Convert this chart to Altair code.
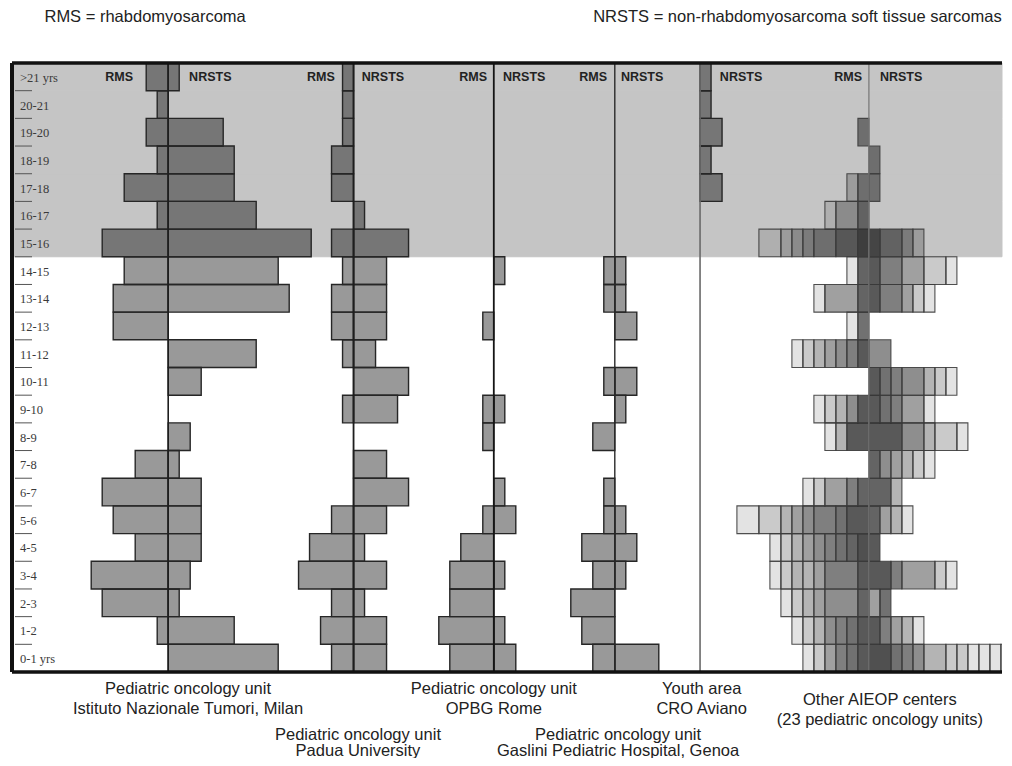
import altair as alt
import pandas as pd

# ---------------- data (units = patients) ----------------
AGES = [">21 yrs", "20-21", "19-20", "18-19", "17-18", "16-17", "15-16",
        "14-15", "13-14", "12-13", "11-12", "10-11", "9-10", "8-9", "7-8",
        "6-7", "5-6", "4-5", "3-4", "2-3", "1-2", "0-1 yrs"]
ADOLESCENT_AGES = AGES[:7]

MILAN_RMS = [2, 1, 2, 1, 4, 1, 6, 4, 5, 5, 0, 0, 0, 0, 3, 6, 5, 3, 7, 6, 1, 0]
MILAN_NRSTS = [1, 0, 5, 6, 6, 8, 13, 10, 11, 0, 8, 3, 0, 2, 1, 3, 3, 3, 2, 1, 6, 10]
PADUA_RMS = [1, 1, 1, 2, 2, 0, 2, 1, 2, 2, 1, 0, 1, 0, 0, 0, 2, 4, 5, 2, 3, 2]
PADUA_NRSTS = [0, 0, 0, 0, 0, 1, 5, 3, 3, 3, 2, 5, 4, 0, 3, 5, 3, 1, 3, 1, 3, 3]
ROME_RMS = [0, 0, 0, 0, 0, 0, 0, 0, 0, 1, 0, 0, 1, 1, 0, 0, 1, 3, 4, 4, 5, 4]
ROME_NRSTS = [0, 0, 0, 0, 0, 0, 0, 1, 0, 0, 0, 0, 1, 0, 0, 1, 2, 0, 1, 0, 1, 2]
GENOA_RMS = [0, 0, 0, 0, 0, 0, 0, 1, 1, 0, 0, 1, 0, 2, 0, 1, 1, 3, 2, 4, 3, 2]
GENOA_NRSTS = [0, 0, 0, 0, 0, 0, 0, 1, 1, 2, 0, 2, 1, 0, 0, 0, 1, 2, 1, 0, 0, 4]
AVIANO_RMS = [0] * 22
AVIANO_NRSTS = [1, 1, 2, 1, 2, 0, 0, 0, 0, 0, 0, 0, 0, 0, 0, 0, 0, 0, 0, 0, 0, 0]

# Other AIEOP centers: overlaid bars of 23 units -> segments (width, number of overlapping centres)
AIEOP_RMS = [
    [], [], [(1, 5)], [], [(1, 5), (1, 2)], [(1, 6), (2, 3), (1, 1)],
    [(1, 10), (2, 7), (2, 5), (1, 4), (1, 3), (1, 2), (2, 1)],
    [(1, 8), (1, 1)],
    [(1, 8), (3, 4), (1, 1)],
    [(1, 7), (1, 1)],
    [(1, 9), (1, 6), (1, 5), (1, 4), (1, 3), (1, 2), (1, 1)],
    [],
    [(1, 9), (1, 5), (1, 3), (1, 2), (1, 1)],
    [(2, 9), (1, 3), (1, 1)],
    [],
    [(1, 8), (1, 6), (2, 4), (1, 2), (1, 1)],
    [(2, 9), (1, 7), (2, 6), (1, 5), (1, 4), (1, 3), (2, 2), (2, 1)],
    [(1, 10), (1, 8), (1, 7), (1, 6), (1, 5), (1, 4), (1, 3), (1, 2), (1, 1)],
    [(1, 9), (3, 6), (1, 4), (1, 3), (1, 3), (1, 2), (1, 1)],
    [(1, 8), (3, 5), (1, 4), (1, 3), (1, 2), (1, 1)],
    [(1, 9), (1, 7), (1, 6), (1, 5), (1, 3), (1, 2), (1, 1)],
    [(1, 9), (1, 7), (1, 6), (1, 4), (1, 2), (1, 1)],
]
AIEOP_NRSTS = [
    [], [], [], [(1, 5)], [(1, 5)], [],
    [(1, 9), (2, 6), (1, 4), (1, 2)],
    [(1, 9), (2, 6), (2, 4), (2, 2), (1, 1)],
    [(1, 9), (2, 6), (1, 4), (1, 2), (1, 1)],
    [],
    [(2, 5)],
    [(1, 9), (1, 7), (1, 6), (2, 5), (1, 3), (1, 2), (1, 1)],
    [(1, 9), (1, 7), (1, 6), (2, 4), (1, 1)],
    [(3, 9), (2, 5), (1, 3), (2, 2), (1, 1)],
    [(1, 8), (1, 5), (1, 4), (1, 3), (1, 2), (1, 1)],
    [(2, 8), (1, 3)],
    [(1, 8), (1, 4), (1, 3), (1, 1)],
    [(1, 9)],
    [(2, 9), (1, 6), (3, 4), (1, 2), (1, 1)],
    [(1, 4), (1, 7)],
    [(1, 9), (1, 6), (1, 4), (1, 3), (1, 1)],
    [(2, 10), (1, 7), (1, 6), (1, 5), (2, 3), (1, 2), (1, 2),
     (1, 1), (1, 1), (1, 1), (1, 1), (1, 1), (1, 1)],
]

PANEL_LABELS = {
    "Milan": ["Pediatric oncology unit", "Istituto Nazionale Tumori, Milan"],
    "Padua": ["Pediatric oncology unit", "Padua University"],
    "Rome": ["Pediatric oncology unit", "OPBG Rome"],
    "Genoa": ["Pediatric oncology unit", "Gaslini Pediatric Hospital, Genoa"],
    "Aviano": ["Youth area", "CRO Aviano"],
    "AIEOP": ["Other AIEOP centers", "(23 pediatric oncology units)"],
}
HEADER_NOTES = ["RMS = rhabdomyosarcoma",
                "NRSTS = non-rhabdomyosarcoma soft tissue sarcomas"]

# ---------------- layout ----------------
W, H = 990, 609
UNIT_PX = 11
XMAX = W / UNIT_PX
CENTER = {"Milan": 14.2, "Padua": 31.05, "Rome": 43.8, "Genoa": 54.8,
          "Aviano": 62.55, "AIEOP": 77.9}
LINE_STYLE = {"Milan": ("#1e1e1e", 1.6), "Padua": ("#1e1e1e", 1.8),
              "Rome": ("#151515", 1.8), "Genoa": ("#2a2a2a", 1.4),
              "Aviano": ("#6a6a6a", 1.6), "AIEOP": ("#7a7a7a", 1.3)}
HEAD_OFFSET = {"Milan": (-3.2, 1.9), "Padua": (-1.7, 0.75), "Rome": (-0.62, 0.84),
               "Genoa": (-0.71, 0.56), "Aviano": (None, 1.8), "AIEOP": (-0.63, 1.0)}
LABEL_X = {"Milan": 16.0, "Padua": 31.45, "Rome": 43.8, "Genoa": 55.1,
           "Aviano": 62.7, "AIEOP": 78.9}
LABEL_Y = {"Milan": (626, 646), "Padua": (672, 688), "Rome": (626, 646),
           "Genoa": (672, 688), "Aviano": (626, 646), "AIEOP": (637, 657)}
NOTE_X = [12.1, 71.4]
BAND = "#c5c5c5"
TXT = "#222222"
SANS = "Liberation Sans"

# ---------------- tables ----------------
singles = {"Milan": (MILAN_RMS, MILAN_NRSTS), "Padua": (PADUA_RMS, PADUA_NRSTS),
           "Rome": (ROME_RMS, ROME_NRSTS), "Genoa": (GENOA_RMS, GENOA_NRSTS),
           "Aviano": (AVIANO_RMS, AVIANO_NRSTS)}
rows = []
for p, (rms, nr) in singles.items():
    c = CENTER[p]
    for age, r, n in zip(AGES, rms, nr):
        if r:
            rows.append(dict(panel=p, age=age, side="RMS", count=r, x0=c - r, x1=c))
        if n:
            rows.append(dict(panel=p, age=age, side="NRSTS", count=n, x0=c, x1=c + n))
bars = pd.DataFrame(rows)

rows = []
c = CENTER["AIEOP"]
for sign, table, side in ((-1, AIEOP_RMS, "RMS"), (1, AIEOP_NRSTS, "NRSTS")):
    for age, segs_ in zip(AGES, table):
        pos = 0
        for w, n in segs_:
            a, b = c + sign * pos, c + sign * (pos + w)
            rows.append(dict(age=age, side=side, overlap=n, x0=min(a, b), x1=max(a, b)))
            pos += w
segs = pd.DataFrame(rows)
segs["op"] = 1 - 0.89 ** segs["overlap"]

yscale = alt.Scale(domain=AGES, paddingInner=0, paddingOuter=0)
Y = alt.Y("age:N", scale=yscale, axis=None)
xscale = alt.Scale(domain=[0, XMAX], nice=False, zero=False)
X = alt.X("x0:Q", scale=xscale, axis=None)

band_layer = alt.Chart(pd.DataFrame({"age": ADOLESCENT_AGES})).mark_rect(
    color=BAND, stroke=BAND, strokeWidth=1).encode(y=Y, x=alt.value(0), x2=alt.value(W))

# short tick marks at the top of each age row
tick_layer = alt.Chart(pd.DataFrame({"age": AGES[1:]})).mark_rule(
    color="#555555", strokeWidth=1).encode(
    y=alt.Y("age:N", scale=yscale, axis=None, bandPosition=0),
    x=alt.value(3), x2=alt.value(20))

bar_layer = alt.Chart(bars).mark_bar(
    color="black", fillOpacity=0.4, stroke="#262626", strokeWidth=1.4, strokeOpacity=1
).encode(y=Y, x=X, x2="x1:Q")

aieop_layer = alt.Chart(segs).mark_bar(
    color="black", stroke="#3c3c3c", strokeWidth=1.1, strokeOpacity=0.9, clip=True
).encode(y=Y, x=X, x2="x1:Q", fillOpacity=alt.FillOpacity("op:Q", scale=None))

lines = pd.DataFrame([dict(panel=p, center=CENTER[p], col=LINE_STYLE[p][0], w=LINE_STYLE[p][1])
                      for p in CENTER])
line_layer = alt.Chart(lines).mark_rule().encode(
    x=alt.X("center:Q", scale=xscale, axis=None),
    color=alt.Color("col:N", scale=None),
    strokeWidth=alt.StrokeWidth("w:Q", scale=None))

one = pd.DataFrame({"k": [0]})
frame = [
    alt.Chart(one).mark_rule(color="#111", strokeWidth=3.5).encode(
        x=alt.value(0), x2=alt.value(W), y=alt.value(0)),
    alt.Chart(one).mark_rule(color="#111", strokeWidth=3.5).encode(
        x=alt.value(0), x2=alt.value(W), y=alt.value(H)),
    alt.Chart(one).mark_rule(color="#111", strokeWidth=4).encode(
        x=alt.value(0), y=alt.value(0), y2=alt.value(H)),
]

age_layer = alt.Chart(pd.DataFrame({"age": AGES})).mark_text(
    align="left", baseline="middle", font="Liberation Serif", fontSize=12.5,
    color="#3a3a3a", dy=1
).encode(y=Y, x=alt.value(8), text="age:N")

hr, hn = [], []
for p, (ro, no) in HEAD_OFFSET.items():
    if ro is not None:
        hr.append(dict(age=AGES[0], x0=CENTER[p] + ro, t="RMS"))
    hn.append(dict(age=AGES[0], x0=CENTER[p] + no, t="NRSTS"))
head_rms = alt.Chart(pd.DataFrame(hr)).mark_text(
    align="right", baseline="middle", font=SANS, fontWeight="bold", fontSize=12.5, color=TXT
).encode(y=Y, x=X, text="t:N")
head_nr = alt.Chart(pd.DataFrame(hn)).mark_text(
    align="left", baseline="middle", font=SANS, fontWeight="bold", fontSize=12.5, color=TXT
).encode(y=Y, x=X, text="t:N")

label_layers = []
for p, lines_txt in PANEL_LABELS.items():
    for txt, ypix in zip(lines_txt, LABEL_Y[p]):
        label_layers.append(
            alt.Chart(pd.DataFrame({"x0": [LABEL_X[p]], "t": [txt]})).mark_text(
                align="center", baseline="middle", font=SANS, fontSize=16.5, color=TXT
            ).encode(x=X, y=alt.value(ypix), text="t:N"))

note_layer = alt.Chart(pd.DataFrame({"x0": NOTE_X, "t": HEADER_NOTES})).mark_text(
    align="center", baseline="middle", font=SANS, fontSize=16.5, color=TXT
).encode(x=X, y=alt.value(-46), text="t:N")

chart = alt.layer(
    band_layer, tick_layer, bar_layer, aieop_layer, line_layer, *frame,
    age_layer, head_rms, head_nr, *label_layers, note_layer
).properties(
    width=W, height=H, autosize="none",
    padding={"left": 4, "top": 55, "right": 2, "bottom": 86},
    background="white",
).configure_view(strokeWidth=0)

chart.save("out.html", embed_options={"renderer": "svg", "actions": False})
